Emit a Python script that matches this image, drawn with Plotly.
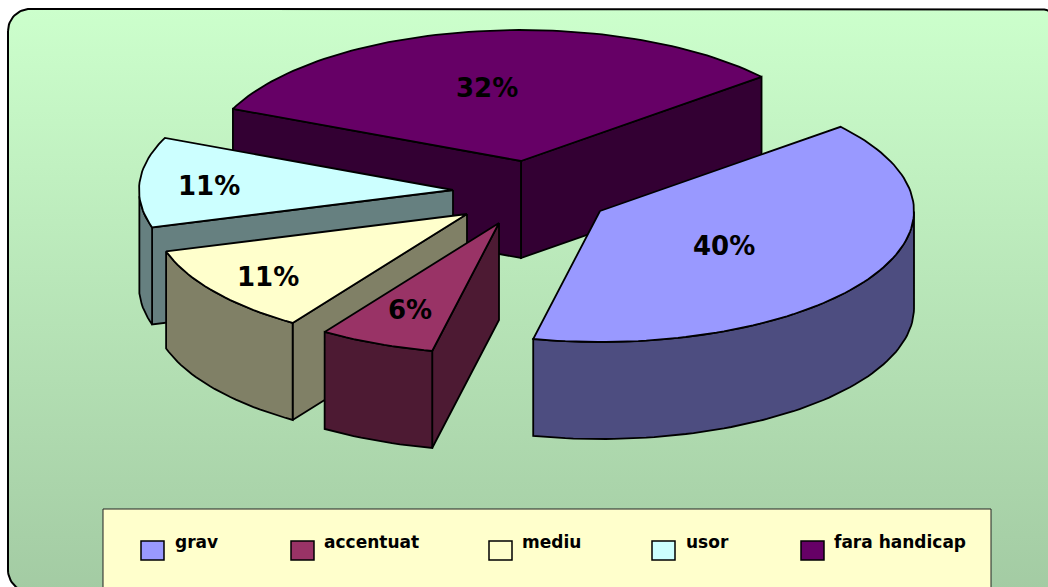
import math
import plotly.graph_objects as go

# ---- data -------------------------------------------------------------
CATEGORIES = ["grav", "accentuat", "mediu", "usor", "fara handicap"]
VALUES = [40, 6, 11, 11, 32]
LABELS = ["40%", "6%", "11%", "11%", "32%"]

# ---- style ------------------------------------------------------------
TOP_COLORS = ["#9999FF", "#993366", "#FFFFCC", "#CCFFFF", "#660066"]
SIDE_COLORS = ["#4D4D80", "#4D1A33", "#808066", "#668080", "#330033"]

# ---- layout of the drawing (pixels) ------------------------------------
W, H = 1048, 587
APEX = [(600, 211), (499, 223), (467, 214), (453, 190), (521, 161)]
RX, RY, DEPTH = 314, 131, 97
START_ANGLE = 40.0
PERSPECTIVE_SKEW = 0.95   # small angular correction of the tilted view
LABEL_XY = [(724, 246), (410, 310), (268, 277), (209, 186), (487, 88)]
PAINT_ORDER = [4, 3, 2, 1, 0]
LEGEND_BOX = (103, 509, 991, 590)
SWATCH_X = [141, 291, 489, 652, 801]
TEXT_X = [173, 322, 520, 684, 832]
SWATCH_Y = (541, 560)
TEXT_Y = 542
BG = (8, 9, 1062, 592, 22)


def spans():
    out, t = [], START_ANGLE
    total = sum(VALUES)
    for v in VALUES:
        t1 = t - 360.0 * v / total
        out.append((t, t1))
        t = t1
    return out


def rim(apex, t):
    t = t + PERSPECTIVE_SKEW * (1 - math.cos(math.radians(t - START_ANGLE)))
    r = math.radians(t)
    return apex[0] + RX * math.cos(r), apex[1] - RY * math.sin(r)


def poly(fig, pts, fill, lw=1.8):
    xs = [p[0] for p in pts] + [pts[0][0]]
    ys = [p[1] for p in pts] + [pts[0][1]]
    fig.add_trace(go.Scatter(x=xs, y=ys, mode="lines", fill="toself", fillcolor=fill,
                             line=dict(color="black", width=lw), hoverinfo="skip",
                             showlegend=False))


def rounded_rect(x0, y0, x1, y1, r):
    pts = []
    for cx, cy, a0 in [(x0 + r, y0 + r, 180), (x1 - r, y0 + r, 270),
                       (x1 - r, y1 - r, 0), (x0 + r, y1 - r, 90)]:
        for k in range(17):
            a = math.radians(a0 + 90 * k / 16)
            pts.append((cx + r * math.cos(a), cy + r * math.sin(a)))
    pts.append(pts[0])
    return [p[0] for p in pts], [p[1] for p in pts]


fig = go.Figure()

# chart area with rounded border and vertical gradient
bx, by = rounded_rect(*BG)
fig.add_trace(go.Scatter(
    x=bx, y=by, mode="lines", fill="toself",
    fillgradient=dict(type="vertical",
                      colorscale=[[0, "#A3CBA3"], [1, "#CCFFCC"]]),
    line=dict(color="black", width=2), hoverinfo="skip", showlegend=False))

# 3D exploded pie, painted back to front
sp = spans()
for i in PAINT_ORDER:
    t0, t1 = sp[i]
    apex = APEX[i]
    side = SIDE_COLORS[i]
    steps = max(8, int(abs(t0 - t1) / 1.5))
    ts = [t0 + (t1 - t0) * k / steps for k in range(steps + 1)]
    down = lambda p: (p[0], p[1] + DEPTH)

    # radial walls that face the viewer
    if math.cos(math.radians(t1)) > 0:
        e = rim(apex, t1)
        poly(fig, [apex, e, down(e), down(apex)], side)
    if math.cos(math.radians(t0)) < 0:
        e = rim(apex, t0)
        poly(fig, [apex, e, down(e), down(apex)], side)

    # outer wall: only the front half of the rim
    front = [t for t in ts if math.sin(math.radians(t)) <= 0.001]
    if len(front) > 1:
        upper = [rim(apex, t) for t in front]
        poly(fig, upper + [down(p) for p in reversed(upper)], side)

    # top face
    poly(fig, [apex] + [rim(apex, t) for t in ts], TOP_COLORS[i])

# percentage labels
annotations = []
for lab, (x, y) in zip(LABELS, LABEL_XY):
    annotations.append(dict(x=x, y=y, text=lab, showarrow=False, xref="x", yref="y",
                            font=dict(family="DejaVu Sans", size=26, color="black", weight="bold")))

# legend box
shapes = [dict(type="rect", x0=LEGEND_BOX[0], y0=LEGEND_BOX[1], x1=LEGEND_BOX[2], y1=LEGEND_BOX[3],
               xref="x", yref="y", fillcolor="#FFFFCC", line=dict(color="#222222", width=1), layer="above")]
for name, col, sx, tx in zip(CATEGORIES, TOP_COLORS, SWATCH_X, TEXT_X):
    shapes.append(dict(type="rect", x0=sx, x1=sx + 23, y0=SWATCH_Y[0], y1=SWATCH_Y[1],
                       xref="x", yref="y", fillcolor=col, line=dict(color="black", width=1.5), layer="above"))
    annotations.append(dict(x=tx, y=TEXT_Y, text=name, showarrow=False, xref="x", yref="y",
                            xanchor="left", yanchor="middle",
                            font=dict(family="DejaVu Sans", size=17, color="black", weight="bold")))

fig.update_layout(
    width=W, height=H, margin=dict(l=0, r=0, t=0, b=0),
    paper_bgcolor="white", plot_bgcolor="white", showlegend=False,
    xaxis=dict(range=[0, W], visible=False, fixedrange=True),
    yaxis=dict(range=[H, 0], visible=False, fixedrange=True),
    shapes=shapes, annotations=annotations,
)
fig.write_html("out.html", config={"displayModeBar": False},
               post_script="document.body.style.margin='0';document.body.style.overflow='hidden';")
